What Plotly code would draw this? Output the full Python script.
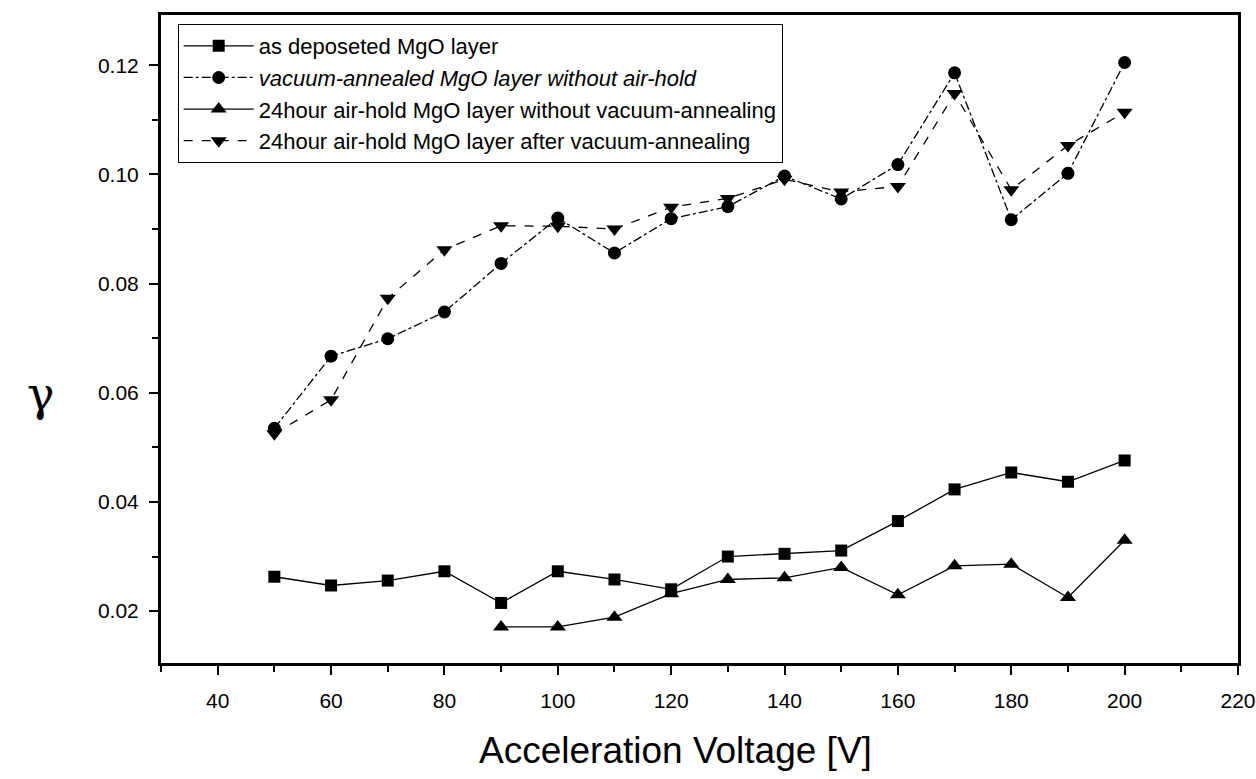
import plotly.graph_objects as go

# Acceleration voltage (V)
voltage = [50, 60, 70, 80, 90, 100, 110, 120, 130, 140, 150, 160, 170, 180, 190, 200]
voltage_airhold = [90, 100, 110, 120, 130, 140, 150, 160, 170, 180, 190, 200]

# Secondary electron emission coefficient (gamma) per sample
as_deposited = [0.0263, 0.0247, 0.0256, 0.0273, 0.0215, 0.0273, 0.0258, 0.0240,
                0.0300, 0.0305, 0.0311, 0.0365, 0.0423, 0.0454, 0.0437, 0.0476]
vacuum_annealed = [0.0535, 0.0667, 0.0699, 0.0748, 0.0837, 0.0920, 0.0856, 0.0919,
                   0.0941, 0.0997, 0.0955, 0.1018, 0.1186, 0.0917, 0.1002, 0.1205]
airhold_no_anneal = [0.0171, 0.0171, 0.0189, 0.0232, 0.0258, 0.0261, 0.0280,
                     0.0230, 0.0283, 0.0286, 0.0225, 0.0330]
airhold_after_anneal = [0.0525, 0.0587, 0.0773, 0.0862, 0.0906, 0.0905, 0.0900, 0.0940,
                        0.0956, 0.0991, 0.0968, 0.0978, 0.1148, 0.0972, 0.1053, 0.1114]

series_names = [
    "as deposeted MgO layer",
    "<i>vacuum-annealed MgO layer without air-hold</i>",
    "24hour air-hold MgO layer without vacuum-annealing",
    "24hour air-hold MgO layer after vacuum-annealing",
]

x_ticks = [40, 60, 80, 100, 120, 140, 160, 180, 200, 220]
y_ticks = [0.02, 0.04, 0.06, 0.08, 0.10, 0.12]

FONT = "Liberation Sans"

fig = go.Figure()

traces = [
    (voltage, as_deposited, "square", 12, "solid"),
    (voltage, vacuum_annealed, "circle", 13, "dashdot"),
    (voltage_airhold, airhold_no_anneal, "triangle-up", 14, "solid"),
    (voltage, airhold_after_anneal, "triangle-down", 14, "dash"),
]

for i, (xs, ys, sym, size, dash) in enumerate(traces):
    fig.add_trace(go.Scatter(
        x=xs, y=ys, mode="lines+markers", name=series_names[i],
        legendgroup=f"g{i}",
        line=dict(color="black", width=1.3, dash=dash),
        marker=dict(symbol=sym, size=size, color="black"),
    ))

# y-axis symbol
fig.add_annotation(
    x=-0.111, xref="paper", y=0.0598, yref="y",
    text="γ", showarrow=False,
    font=dict(family="DejaVu Serif", size=46, color="black"),
    xanchor="center", yanchor="middle",
)

# x-axis title
fig.add_annotation(
    x=0.478, xref="paper", y=-0.135, yref="paper",
    text="Acceleration Voltage [V]", showarrow=False,
    font=dict(family=FONT, size=37, color="black"),
    xanchor="center", yanchor="middle",
)

fig.update_layout(
    width=1256, height=779,
    margin=dict(l=161, r=18, t=15, b=116),
    paper_bgcolor="white", plot_bgcolor="white",
    font=dict(family=FONT, color="black"),
    showlegend=True,
    legend=dict(
        x=0.0155, y=0.986, xanchor="left", yanchor="top",
        bgcolor="white", bordercolor="black", borderwidth=1,
        font=dict(family=FONT, size=22, color="black"),
        traceorder="grouped", tracegroupgap=0,
        itemwidth=70,
    ),
)

fig.update_xaxes(
    range=[30, 220], automargin=False,
    tickvals=x_ticks, ticktext=[str(v) for v in x_ticks],
    ticks="outside", ticklen=9, tickwidth=2, tickcolor="black",
    minor=dict(dtick=10, tick0=30, ticks="outside", ticklen=6, tickwidth=2, tickcolor="black"),
    showline=True, linewidth=3, linecolor="black", mirror=True,
    showgrid=False, zeroline=False,
    tickfont=dict(family=FONT, size=21),
    ticklabelstandoff=8,
    ticklabeloverflow="allow",
)

fig.update_yaxes(
    range=[0.0105, 0.1292], automargin=False,
    tickvals=y_ticks, ticktext=[f"{v:.2f}" for v in y_ticks],
    ticks="outside", ticklen=9, tickwidth=2, tickcolor="black",
    minor=dict(dtick=0.01, tick0=0.0, ticks="outside", ticklen=6, tickwidth=2, tickcolor="black"),
    showline=True, linewidth=3, linecolor="black", mirror=True,
    showgrid=False, zeroline=False,
    tickfont=dict(family=FONT, size=21),
    ticklabelstandoff=6,
)

fig.write_html("out.html")
